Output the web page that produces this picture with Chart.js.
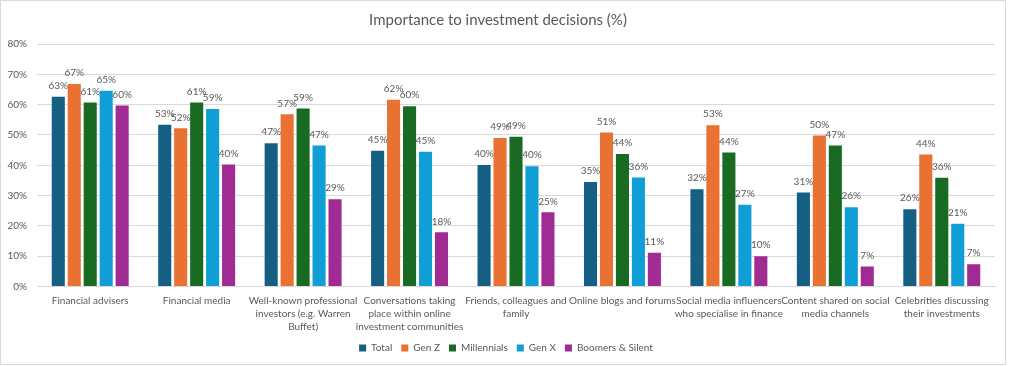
<!DOCTYPE html>
<html>
<head>
<meta charset="utf-8">
<script src="https://cdn.jsdelivr.net/npm/chart.js@4.4.1/dist/chart.umd.min.js"></script>
<style>
  html, body { margin: 0; padding: 0; background: #fff; }
  #wrap { position: absolute; left: 0; top: 0; width: 1006px; height: 365px; border: 1px solid #d9d9d9; box-sizing: border-box; }
  canvas { display: block; }
</style>
</head>
<body>
<div id="wrap"><canvas id="c" width="1004" height="363"></canvas></div>
<script>
const categories = [
  ["Financial advisers"],
  ["Financial media"],
  ["Well-known professional", "investors (e.g. Warren", "Buffet)"],
  ["Conversations taking", "place within online", "investment communities"],
  ["Friends, colleagues and", "family"],
  ["Online blogs and forums"],
  ["Social media influencers", "who specialise in finance"],
  ["Content shared on social", "media channels"],
  ["Celebrities discussing", "their investments"]
];
const seriesNames = ["Total", "Gen Z", "Millennials", "Gen X", "Boomers & Silent"];
const total       = [62.6, 53.4, 47.3, 44.8, 40.1, 34.5, 32.1, 31.0, 25.5];
const genZ        = [66.8, 52.2, 56.8, 61.6, 49.0, 50.8, 53.2, 49.8, 43.6];
const millennials = [60.7, 60.7, 58.7, 59.5, 49.4, 43.7, 44.2, 46.5, 35.9];
const genX        = [64.6, 58.6, 46.5, 44.5, 39.7, 36.0, 27.0, 26.2, 20.7];
const boomers     = [59.7, 40.3, 28.8, 17.9, 24.5, 11.2, 10.0, 6.6, 7.4];
const yTicks = [0, 10, 20, 30, 40, 50, 60, 70, 80];
const colors = ["#156082", "#E97132", "#196B24", "#0F9ED5", "#A02B93"];

const FONT = "Lato, 'Noto Sans', sans-serif";
const GREY = "#595959";

const valueLabels = {
  id: 'valueLabels',
  afterDatasetsDraw(chart) {
    const ctx = chart.ctx;
    ctx.save();
    ctx.font = "10px " + FONT;
    ctx.fillStyle = GREY;
    ctx.textAlign = 'center';
    ctx.textBaseline = 'middle';
    chart.data.datasets.forEach((ds, i) => {
      const meta = chart.getDatasetMeta(i);
      meta.data.forEach((bar, j) => {
        ctx.fillText(Math.round(ds.data[j]) + '%', bar.x, bar.y - 11);
      });
    });
    ctx.restore();
  }
};

const legendShift = {
  id: 'legendShift',
  afterLayout(chart) {
    if (chart.legend) { chart.legend.left += 8; chart.legend.right += 8; }
  }
};

const allSeries = [total, genZ, millennials, genX, boomers];

new Chart(document.getElementById('c'), {
  type: 'bar',
  data: {
    labels: categories,
    datasets: allSeries.map((d, i) => ({
      label: seriesNames[i],
      data: d,
      backgroundColor: colors[i],
      borderWidth: 0,
      categoryPercentage: 0.75,
      barPercentage: 0.82
    }))
  },
  options: {
    responsive: false,
    animation: false,
    devicePixelRatio: 1,
    layout: { padding: { left: 0, right: 10, top: 0, bottom: 1 } },
    plugins: {
      title: {
        display: true,
        text: 'Importance to investment decisions (%)',
        color: GREY,
        font: { family: FONT, size: 15, weight: 'normal' },
        padding: { top: 10, bottom: 15 }
      },
      legend: {
        position: 'bottom',
        labels: {
          color: GREY,
          font: { family: FONT, size: 10 },
          boxWidth: 7,
          boxHeight: 7,
          padding: 9
        }
      },
      tooltip: { enabled: false }
    },
    scales: {
      x: {
        grid: { display: false, drawTicks: false },
        border: { display: true, color: '#d9d9d9' },
        afterFit(scale) { scale.height = scale.height - 7; },
        ticks: {
          color: GREY,
          font: { family: FONT, size: 10, lineHeight: 1.28 },
          maxRotation: 0,
          autoSkip: false,
          padding: 8
        }
      },
      y: {
        min: 0,
        max: 80,
        afterBuildTicks(scale) { scale.ticks = yTicks.map(v => ({ value: v })); },
        afterFit(scale) { scale.width = 36; },
        grid: { color: '#d9d9d9', drawTicks: false },
        border: { display: false },
        ticks: {
          color: GREY,
          font: { family: FONT, size: 10 },
          padding: 10,
          callback: v => v + '%'
        }
      }
    }
  },
  plugins: [valueLabels, legendShift]
});
</script>
</body>
</html>
